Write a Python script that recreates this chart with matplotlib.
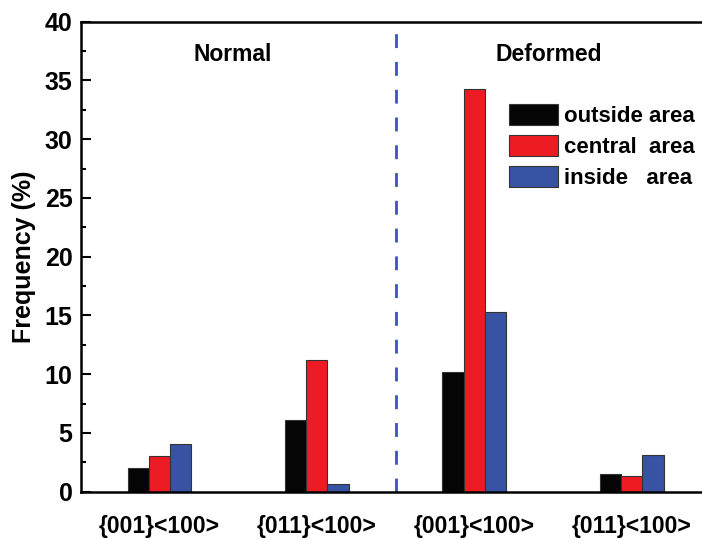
import matplotlib
matplotlib.use("Agg")
import matplotlib.pyplot as plt
import numpy as np
from matplotlib.ticker import MultipleLocator

plt.rcParams['font.family'] = ['Liberation Sans', 'DejaVu Sans']
plt.rcParams['font.weight'] = 'bold'

# data
categories = ['{001}<100>', '{011}<100>', '{001}<100>', '{011}<100>']
series_names = ['outside area', 'central  area', 'inside   area']
outside = [2.05, 6.1, 10.2, 1.5]
central = [3.0, 11.2, 34.3, 1.3]
inside = [4.05, 0.65, 15.3, 3.1]
colors = ['#050505', '#ed1c24', '#3953a4']

fig = plt.figure(figsize=(7.02, 5.40), dpi=100)
ax = fig.add_axes([0.115, 0.0894, 0.897, 0.8704])

x = np.arange(1, len(categories) + 1)
w = 0.135
for i, (vals, name, c) in enumerate(zip([outside, central, inside], series_names, colors)):
    ax.bar(x + (i - 1) * w, vals, w, color=c, edgecolor='#333333', linewidth=0.8, label=name)

# divider between normal and deformed
ax.axvline((x[1] + x[2]) / 2, color='#3953c4', lw=2, linestyle=(0, (5, 5)))

ax.set_xlim(0.5, 4.5)
ax.set_ylim(0, 40)
ax.set_xticks(x)
ax.set_xticklabels(categories, fontsize=16.5, fontweight='bold')
ax.tick_params(axis='x', length=0, pad=17)
ax.yaxis.set_major_locator(MultipleLocator(5))
ax.yaxis.set_minor_locator(MultipleLocator(2.5))
ax.tick_params(axis='y', which='major', direction='in', length=7, width=1.5, pad=6, labelsize=18)
ax.tick_params(axis='y', which='minor', direction='in', length=3.5, width=1.5)
for lab in ax.get_yticklabels():
    lab.set_fontweight('bold')
for sp in ax.spines.values():
    sp.set_linewidth(1.8)

ax.set_ylabel('Frequency (%)', fontsize=18, fontweight='bold', labelpad=6)

ax.text(0.242, 0.931, 'Normal', transform=ax.transAxes, ha='center', va='center',
        fontsize=16.5, fontweight='bold')
ax.text(0.743, 0.931, 'Deformed', transform=ax.transAxes, ha='center', va='center',
        fontsize=16.5, fontweight='bold')

ax.legend(loc='upper left', bbox_to_anchor=(0.68, 0.825), frameon=False,
          handlelength=2.2, handleheight=1.08, labelspacing=0.35,
          handletextpad=0.3, borderpad=0, borderaxespad=0,
          prop={'weight': 'bold', 'size': 16})

fig.savefig('out.png', dpi=100)
